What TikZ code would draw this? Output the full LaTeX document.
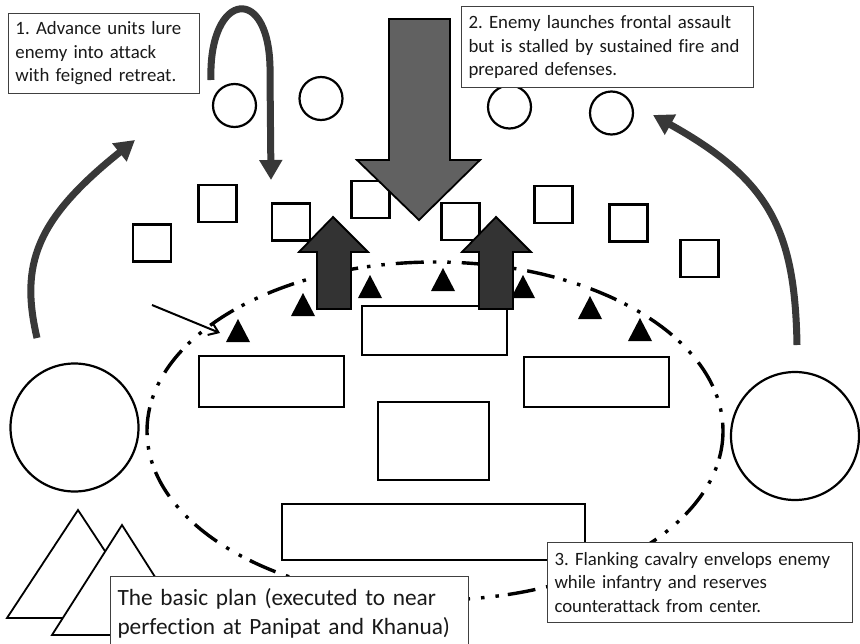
\documentclass[tikz,border=0pt]{standalone}
\usepackage{fontspec}
\setmainfont{Carlito}[Ligatures=NoCommon]
\usetikzlibrary{arrows.meta}

\begin{document}
\frenchspacing
\begin{tikzpicture}[x=1pt,y=-1pt,
% Unit symbols style
    sq/.style={rectangle,draw,line width=2.4pt,fill=white,
		minimum width=38pt,minimum height=37pt,inner sep=0pt},
    foe/.style={circle,draw,line width=2.2pt,fill=white,
		minimum size=43pt,inner sep=0pt},
    horse/.style={circle,draw,line width=2.2pt,fill=white,
		minimum size=128pt,inner sep=0pt},
    block/.style={draw,line width=2.4pt,fill=white},
    camp/.style={draw,line width=1.8pt,fill=white,line join=miter},
% Note style
    note/.style={rectangle,draw=black!75,line width=1pt,fill=white,
		anchor=north west,align=left,inner xsep=7pt,
		font=\fontsize{18.8}{23.5}\selectfont,text=black!90},
% Arrow styles
    sweep/.style={line width=7pt,draw=black!78,
		-{Triangle[width=22pt,length=20pt]}},
    push/.style={draw,line width=1.8pt,line join=miter},
    line/.style={line width=3.4pt,
		dash pattern=on 28pt off 9pt on 3.5pt off 11pt on 3.5pt off 11pt}
    ]
   \clip (0,0) rectangle (860,643);
%% Enemy lines
   \node [foe] (f1) at (234.5,105.5) {};
   \node [foe] (f2) at (321,98.5)    {};
   \node [foe] (f3) at (509.5,107)   {};
   \node [foe] (f4) at (611.5,113)   {};
   \node [sq] (s1) at (152,243)   {};
   \node [sq] (s2) at (217.5,203.5) {};
   \node [sq] (s3) at (291,222)   {};
   \node [sq] (s4) at (370.5,199.5) {};
   \node [sq] (s5) at (460.5,221.5) {};
   \node [sq] (s6) at (553.5,204.5) {};
   \node [sq] (s7) at (628.5,223)   {};
   \node [sq] (s8) at (699.5,258.5) {};
%% Flanking cavalry
   \node [horse] (wl) at (74.5,427.5) {};
   \node [horse] (wr) at (795,436)    {};
%% Defensive ring and guns
   \draw [line] (435,431) ellipse [x radius=288,y radius=169];
   \foreach \x/\y in {238/319, 303/293, 370/275, 443/268,
		523/275, 590/296, 640/318}
	\fill (\x,\y) -- ++(-12,23) -- ++(24,0) -- cycle;
%% Infantry and reserves
   \draw [block] (199,356) rectangle (344,407);
   \draw [block] (362,306) rectangle (507,355);
   \draw [block] (524,357) rectangle (669,407);
   \draw [block] (378,402) rectangle (489,480);
   \draw [block] (282,504) rectangle (585,560);
%% Camp
   \draw [camp] (78,510) -- (149,618) -- (7,618) -- cycle;
   \draw [camp] (122,525) -- (192,635) -- (52,635) -- cycle;
%% Moves
   \coordinate (lure) at (211,80);
   \coordinate (lureEnd) at (271,180);
   \draw [sweep] (lure) .. controls (208,-10) and (272,-18) .. (270,75)
	-- (lureEnd);
   \coordinate (wlTop) at (37,338);
   \coordinate (wlEnd) at (135,140);
   \draw [sweep] (wlTop) .. controls (20,265) and (35,220) .. (wlEnd);
   \coordinate (wrTop) at (797,345);
   \coordinate (wrEnd) at (653,115);
   \draw [sweep] (wrTop) .. controls (795,230) and (770,180) .. (wrEnd);
   \draw [push,fill=black!62] (389,19) -- (450,19) -- (450,160) -- (480,160)
	-- (419,220) -- (357,160) -- (389,160) -- cycle;
   \draw [push,fill=black!80] (317,309) -- (317,252) -- (299,252) -- (333,217)
	-- (368,252) -- (351,252) -- (351,309) -- cycle;
   \draw [push,fill=black!80] (479,309) -- (479,252) -- (462,252) -- (496,217)
	-- (531,252) -- (513,252) -- (513,309) -- cycle;
   \coordinate (gunAim) at (152,305);
   \coordinate (gunHit) at (220,333);
   \draw [line width=2pt,-{Straight Barb[length=9pt,width=13pt]}] (gunAim)
	-- (gunHit);
%% Notes
   \node [note,text width=177pt,minimum height=80pt] (n1) at (8,13)
	{1. Advance units lure\\enemy into attack\\with feigned retreat.};
   \node [note,text width=278pt,minimum height=81pt] (n2) at (461,6)
	{2. Enemy launches frontal assault\\but is stalled by sustained fire and\\prepared defenses.};
   \node [note,text width=291pt,minimum height=80pt] (n3) at (547,542)
	{3. Flanking cavalry envelops enemy\\while infantry and reserves\\counterattack from center.};
   \node [note,text width=344pt,minimum height=74pt,
	font=\fontsize{23.3}{29.5}\selectfont] (plan) at (110,576)
	{The basic plan (executed to near\\perfection at Panipat and Khanua)};
\end{tikzpicture}
\end{document}
